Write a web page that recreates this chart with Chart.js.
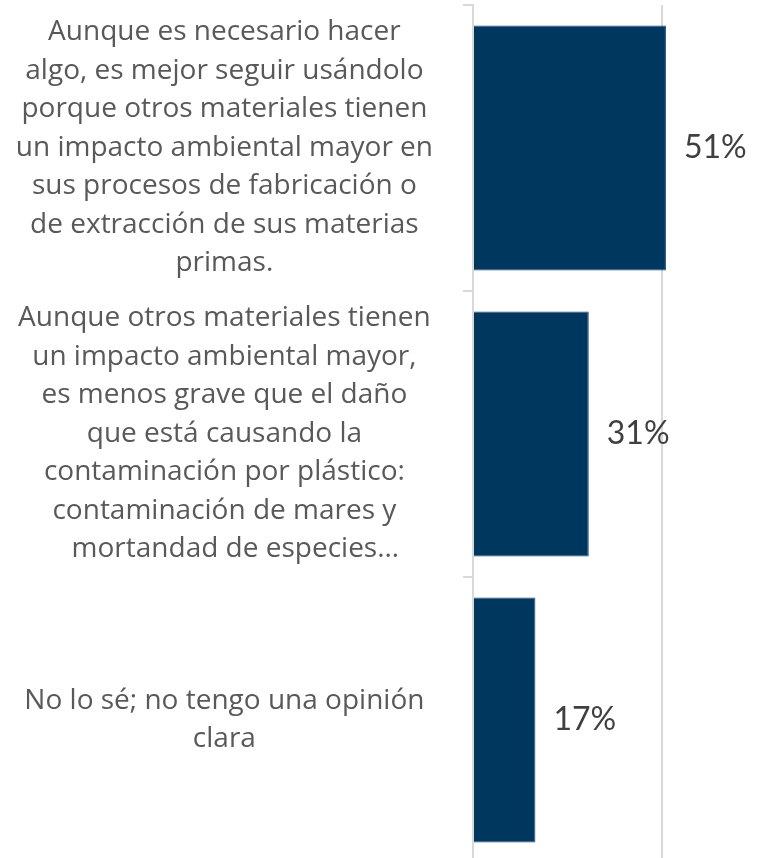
<!DOCTYPE html>
<html>
<head>
<meta charset="utf-8">
<script src="https://cdn.jsdelivr.net/npm/chart.js@4/dist/chart.umd.min.js"></script>
<style>
  html, body { margin: 0; padding: 0; overflow: hidden; background: #fff; }
  #wrap { width: 758px; height: 868px; }
</style>
</head>
<body>
<div id="wrap"><canvas id="opinionChart"></canvas></div>
<script>
// categories (one array of lines per label, as wrapped in the picture)
var categories = [
    ['Aunque es necesario hacer', 'algo, es mejor seguir usándolo', 'porque otros materiales tienen',
     'un impacto ambiental mayor en', 'sus procesos de fabricación o', 'de extracción de sus materias', 'primas.'],
    ['Aunque otros materiales tienen', 'un impacto ambiental mayor,', 'es menos grave que el daño',
     'que está causando la', 'contaminación por plástico:', 'contaminación de mares y', '   mortandad de especies…'],
    ['No lo sé; no tengo una opinión', 'clara']
];
var percents = [51, 30.6, 16.5];
var gridTicks = [0, 50];

var barColor = '#00375F';
var lineGrey = '#d9d9d9';

// value labels to the right of each bar
var valueLabels = {
    id: 'valueLabels',
    afterDatasetsDraw: function (chart) {
        var ctx = chart.ctx;
        var meta = chart.getDatasetMeta(0);
        ctx.save();
        ctx.font = '32px Lato';
        ctx.fillStyle = '#404040';
        ctx.textAlign = 'left';
        ctx.textBaseline = 'middle';
        meta.data.forEach(function (bar, i) {
            ctx.fillText(Math.round(percents[i]) + '%', bar.x + 18, bar.y);
        });
        ctx.restore();
    }
};

var ctx = document.getElementById('opinionChart').getContext('2d');
var opinionChart = new Chart(ctx, {
    type: 'bar',
    data: {
        labels: categories,
        datasets: [{
            data: percents,
            backgroundColor: barColor,
            borderColor: '#1d4f7c',
            borderWidth: 1,
            borderSkipped: 'start',
            barPercentage: 0.857,
            categoryPercentage: 1
        }]
    },
    options: {
        indexAxis: 'y',
        responsive: true,
        maintainAspectRatio: false,
        animation: false,
        layout: { padding: { top: 5, right: 58, bottom: 5, left: 0 } },
        plugins: {
            legend: { display: false },
            tooltip: { enabled: false }
        },
        scales: {
            x: {
                min: 0,
                max: 60,
                afterBuildTicks: function (scale) {
                    scale.ticks = gridTicks.map(function (v) { return { value: v }; });
                },
                afterFit: function (scale) {
                    scale.height = 0;
                    scale.paddingLeft = 0;
                    scale.paddingRight = 0;
                },
                ticks: { display: false },
                border: { display: false },
                grid: { color: lineGrey, lineWidth: 2, drawTicks: false }
            },
            y: {
                afterFit: function (scale) {
                    scale.width = 473;
                    scale.paddingTop = 0;
                    scale.paddingBottom = 0;
                },
                ticks: {
                    crossAlign: 'center',
                    padding: 30,
                    color: '#595959',
                    font: { family: 'Open Sans', size: 28, lineHeight: 1.375 }
                },
                border: { color: lineGrey, width: 2 },
                grid: {
                    offset: true,
                    drawOnChartArea: false,
                    tickLength: 10,
                    color: lineGrey,
                    lineWidth: 2
                }
            }
        }
    },
    plugins: [valueLabels]
});
</script>
</body>
</html>
